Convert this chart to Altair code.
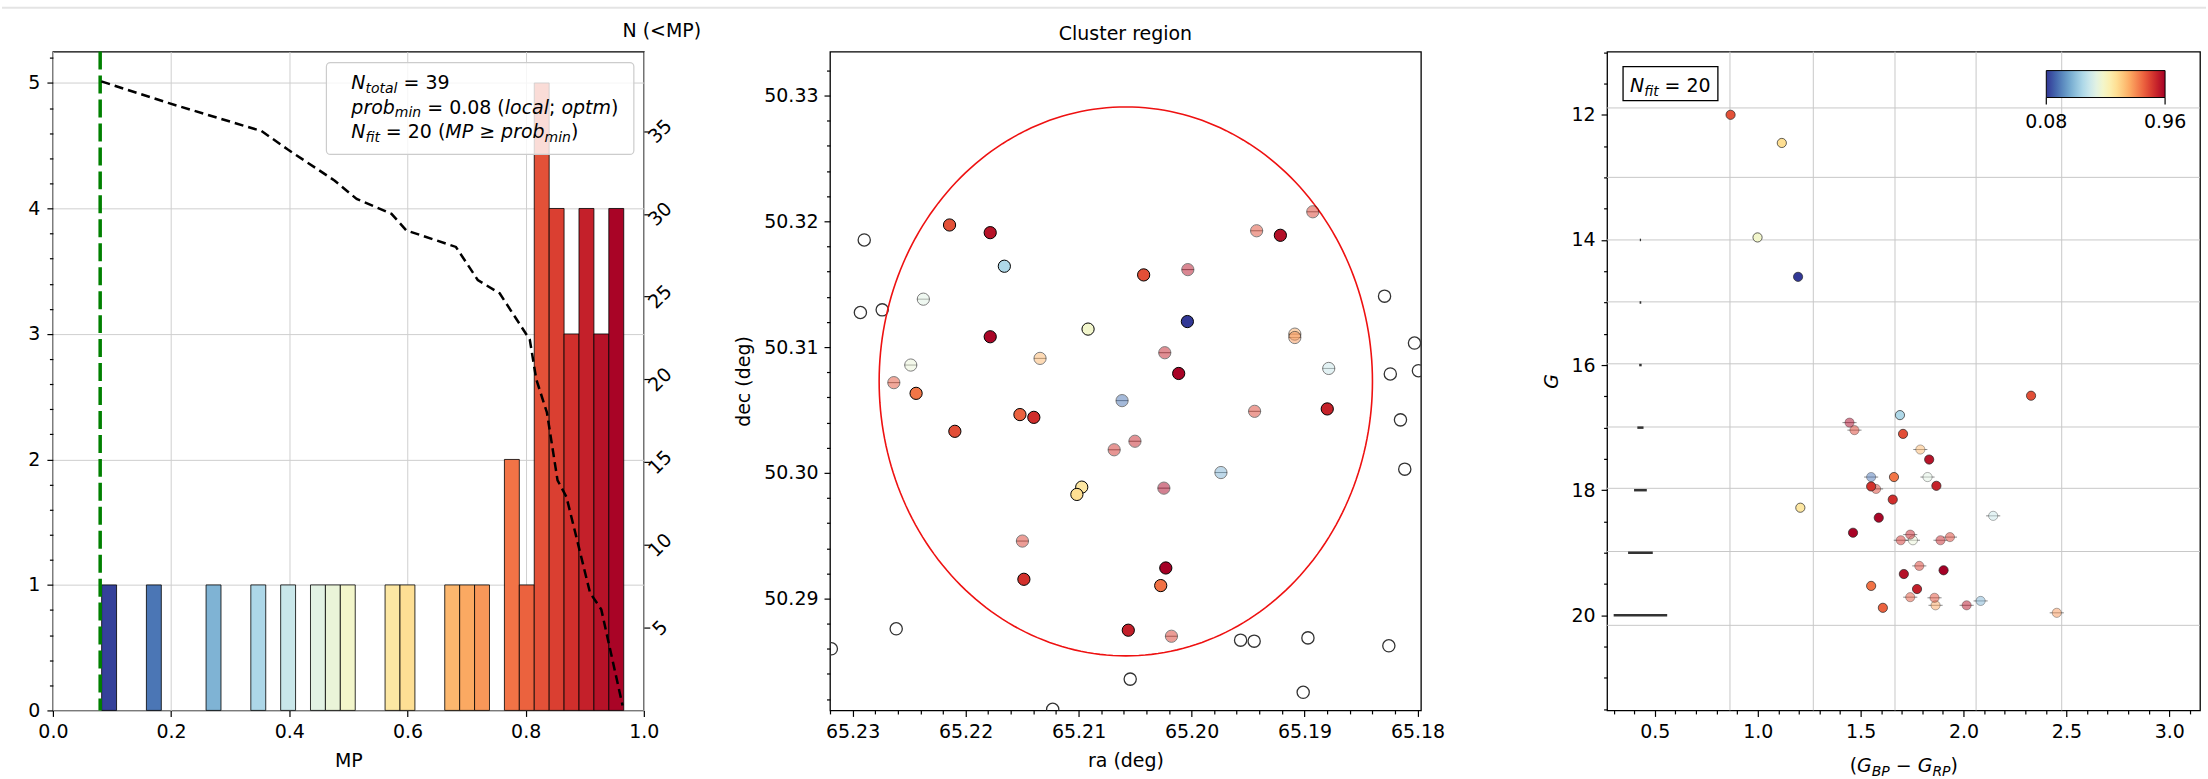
import altair as alt
import numpy as np
import pandas as pd

FONT = "DejaVu Sans"

# ---------------- cluster members (first 20 = fit members, last 19 = others) ----------------
mp = [0.083, 0.352, 0.497, 0.575, 0.602, 0.772, 0.779, 0.801, 0.826, 0.829,
      0.831, 0.874, 0.879, 0.900, 0.905, 0.926, 0.931, 0.950, 0.955, 0.960,
      0.171, 0.272, 0.398, 0.448, 0.474, 0.676, 0.701, 0.727, 0.823, 0.834,
      0.848, 0.852, 0.855, 0.858, 0.877, 0.898, 0.904, 0.928, 0.953]
ra = [65.20037, 65.21657, 65.20916, 65.20972, 65.21015, 65.22438, 65.20273, 65.21519, 65.22142, 65.20424,
      65.22095, 65.21484, 65.21396, 65.18799, 65.20560, 65.21782, 65.19214, 65.21782, 65.20114, 65.20228,
      65.20615, 65.19740, 65.18786, 65.22374, 65.22485, 65.21341, 65.19086, 65.19086, 65.22635, 65.19424,
      65.19442, 65.18927, 65.21497, 65.20178, 65.20685, 65.20501, 65.20237, 65.20033, 65.20245]
dec = [50.31203, 50.31643, 50.31143, 50.29886, 50.29828, 50.30632, 50.29103, 50.30463, 50.31971, 50.31574,
       50.30330, 50.29153, 50.30441, 50.30508, 50.28748, 50.31910, 50.31889, 50.31082, 50.30790, 50.29243,
       50.30574, 50.30002, 50.30830, 50.31381, 50.30857, 50.30910, 50.31103, 50.31076, 50.30717, 50.31925,
       50.30489, 50.32076, 50.29457, 50.28700, 50.30183, 50.30251, 50.30955, 50.31616, 50.29878]
bp_rp = [1.196, 1.691, 0.999, 1.207, 1.117, 1.662, 1.551, 1.608, 0.868, 2.328,
         1.706, 1.551, 1.656, 1.868, 1.774, 1.833, 1.710, 1.588, 1.463, 1.903,
         1.551, 2.083, 2.144, 1.825, 1.754, 1.790, 1.864, 2.453, 1.741, 1.859,
         1.470, 1.575, 1.934, 1.785, 1.695, 1.888, 1.741, 2.015, 1.446]
gmag = [14.59, 16.80, 13.96, 18.28, 12.45, 17.79, 19.53, 19.88, 12.00, 16.49,
        17.10, 17.94, 18.15, 17.93, 19.58, 17.51, 19.34, 18.44, 18.68, 19.28,
        17.79, 19.77, 18.41, 17.79, 18.80, 17.35, 19.84, 19.96, 19.71, 19.72,
        17.04, 17.98, 18.75, 19.21, 18.80, 18.80, 18.71, 19.84, 16.92]
fit_flag = [1] * 20 + [0] * 19

# ---------------- field stars (outside cluster) ----------------
field_ra = [65.22897, 65.22931, 65.22738, 65.18292, 65.18027, 65.18241, 65.17992, 65.18151, 65.18113,
            65.22614, 65.23188, 65.20543, 65.21229, 65.19566, 65.19446, 65.18970, 65.19012, 65.18254]
field_dec = [50.31852, 50.31275, 50.31296, 50.31405, 50.31032, 50.30786, 50.30812, 50.30421, 50.30029,
             50.28759, 50.28600, 50.28359, 50.28119, 50.28669, 50.28661, 50.28687, 50.28254, 50.28624]

# ---------------- N(<MP) curve ----------------
cum_mp = [0.082, 0.195, 0.353, 0.397, 0.477, 0.514, 0.573, 0.598, 0.682, 0.719,
          0.756, 0.807, 0.818, 0.836, 0.854, 0.869, 0.887, 0.909, 0.928, 0.964]
cum_n = [38.0, 36.7, 35.0, 33.9, 32.0, 30.9, 30.0, 29.0, 28.0, 26.0,
         25.2, 22.4, 20.0, 18.0, 13.9, 12.9, 10.3, 7.1, 6.1, 0.3]

prob_min = 0.08
hist_range = (0.0825, 0.966)
n_bins = 35

# cluster radius circle (deg)
circle_ra, circle_dec, circle_r = 65.20582, 50.30727, 0.02183

# CMD grid lines and photometric error bars
cmd_grid_x = [0.865, 1.270, 1.667, 2.061, 2.477]
cmd_grid_y = [11.89, 13.0, 14.0, 14.99, 15.98, 16.99, 17.97, 18.98, 20.16]
err_g = [14, 15, 16, 17, 18, 19, 20]
err_hw = [0.003, 0.004, 0.006, 0.015, 0.031, 0.06, 0.13]
err_c = 0.43

# tick values
mp_ticks = [0.0, 0.2, 0.4, 0.6, 0.8, 1.0]
count_ticks = [float(v) for v in np.round(np.arange(0, 5.21, 0.2), 1)]
ncum_ticks = [5, 10, 15, 20, 25, 30, 35]
ra_ticks = [float(v) for v in np.round(np.arange(65.180, 65.2321, 0.002), 3)]
dec_ticks = [float(v) for v in np.round(np.arange(50.282, 50.3334, 0.002), 3)]
col_ticks = [float(v) for v in np.round(np.arange(0.3, 3.15, 0.1), 1)]
g_ticks = [float(v) for v in np.round(np.arange(11.0, 21.51, 0.5), 1)]
cbar_ticks = [0.08, 0.96]
cbar_domain = [0.08, 0.96]

# ---------------- helpers ----------------
W = {' ': 0.318, '(': 0.390, ')': 0.390, '=': 0.838, '≥': 0.838, '−': 0.838, ';': 0.337, '.': 0.318,
     '<': 0.838, 'B': 0.686, 'G': 0.775, 'M': 0.863, 'N': 0.748, 'P': 0.603, 'R': 0.695,
     'a': 0.613, 'b': 0.635, 'c': 0.550, 'f': 0.352, 'i': 0.278, 'l': 0.278, 'm': 0.974,
     'n': 0.634, 'o': 0.612, 'p': 0.635, 'r': 0.411, 't': 0.392}
for d in "0123456789":
    W[d] = 0.636

one = pd.DataFrame({"k": [0]})


def tw(s, fs):
    return sum(W.get(ch, 0.6) for ch in s) * fs


def plain_text(txt, x, y, size=19, align="center", italic=False):
    return alt.Chart(one).mark_text(
        text=txt, font=FONT, fontSize=size, fontStyle="italic" if italic else "normal",
        align=align, baseline="alphabetic", color="black"
    ).encode(x=alt.value(x), y=alt.value(y))


def rich_text(segments, x0, y0, size=19, sub_size=14, sub_dy=4):
    layers = []
    x = x0
    for txt, italic, sub in segments:
        fs = sub_size if sub else size
        lead = len(txt) - len(txt.lstrip(' '))
        trail = len(txt) - len(txt.rstrip(' '))
        core = txt.strip(' ')
        x += lead * W[' '] * fs
        layers.append(
            alt.Chart(one).mark_text(
                text=core, font=FONT, fontSize=fs,
                fontStyle="italic" if italic else "normal",
                align="left", baseline="alphabetic", color="black"
            ).encode(x=alt.value(x), y=alt.value(y0 + (sub_dy if sub else 0)))
        )
        x += tw(core, fs) + trail * W[' '] * fs
    return layers


def ticked_axis(values, major_test, fmt, grid=False, **kw):
    args = dict(
        values=values, format=fmt,
        labelExpr=f"({major_test}) ? datum.label : ''",
        tickSize={"condition": {"test": major_test, "value": 6}, "value": 3.5},
        grid=grid, labelOverlap=False, labelFlush=False,
    )
    if grid:
        args["gridOpacity"] = {"condition": {"test": major_test, "value": 1}, "value": 0}
    args.update(kw)
    return alt.Axis(**args)


cscale = alt.Scale(scheme=alt.SchemeParams(name="redyellowblue", extent=[1, 0]), domain=cbar_domain)

members = pd.DataFrame({"ra": ra, "dec": dec, "mp": mp, "bp_rp": bp_rp, "g": gmag, "fit": fit_flag})
solid = members[members["fit"] == 1]
semi = members[members["fit"] == 0]

# ================= Panel 1: MP histogram =================
counts, edges = np.histogram(mp, bins=n_bins, range=hist_range)
hist = pd.DataFrame({"x0": edges[:-1], "x1": edges[1:], "count": counts, "base": 0,
                     "center": 0.5 * (edges[:-1] + edges[1:])})
hist = hist[hist["count"] > 0]

x1_scale = alt.Scale(domain=[0, 1], nice=False, zero=False)
x1_axis = alt.Axis(values=mp_ticks, format=".1f", title="MP", grid=True, tickSize=6,
                   labelFlush=False, labelOverlap=False, titlePadding=10, labelPadding=6)
yL_scale = alt.Scale(domain=[0, 5.25], nice=False, zero=False)
yL_axis = ticked_axis(count_ticks, "abs(datum.value - round(datum.value)) < 1e-6", ".0f",
                      grid=True, orient="left", title=None, labelPadding=7)
yR_scale = alt.Scale(domain=[0, 39.8], nice=False, zero=False)
yR_axis = alt.Axis(orient="right", values=ncum_ticks, format="d", grid=False, tickSize=6,
                   labelAngle=315, labelAlign="center", labelBaseline="middle", labelPadding=10,
                   labelFlush=False, labelOverlap=False, title=None)

bars = alt.Chart(hist).mark_rect(stroke="black", strokeWidth=0.8).encode(
    x=alt.X("x0:Q", scale=x1_scale, axis=x1_axis),
    x2="x1:Q",
    y=alt.Y("count:Q", scale=yL_scale, axis=yL_axis),
    y2="base:Q",
    color=alt.Color("center:Q", scale=cscale, legend=None),
)
green = alt.Chart(pd.DataFrame({"p": [prob_min]})).mark_rule(
    color="green", strokeWidth=3.5, strokeDash=[18, 6]
).encode(x=alt.X("p:Q", scale=x1_scale, axis=x1_axis))
cum = alt.Chart(pd.DataFrame({"mp": cum_mp, "n": cum_n})).mark_line(
    color="black", strokeWidth=2.5, strokeDash=[9, 5]
).encode(
    x=alt.X("mp:Q", scale=x1_scale, axis=x1_axis),
    y=alt.Y("n:Q", scale=yR_scale, axis=yR_axis),
)
box1 = alt.Chart(one).mark_rect(fill="white", fillOpacity=0.8, stroke="#cccccc",
                                strokeWidth=1.2, cornerRadius=4).encode(
    x=alt.value(274), x2=alt.value(582), y=alt.value(11), y2=alt.value(103))

leg_txt = []
leg_txt += rich_text([("N", True, False), ("total", True, True), (" = 39", False, False)], 299, 37)
leg_txt += rich_text([("prob", True, False), ("min", True, True), (" = 0.08 (", False, False),
                      ("local", True, False), ("; ", False, False), ("optm", True, False),
                      (")", False, False)], 299, 62)
leg_txt += rich_text([("N", True, False), ("fit", True, True), (" = 20 (", False, False),
                      ("MP", True, False), (" ≥ ", False, False), ("prob", True, False),
                      ("min", True, True), (")", False, False)], 299, 87)
ncum_title = plain_text("N (<MP)", 610, -15)
# faint separator line across the top of the picture
top_line = alt.Chart(one).mark_rule(color="#e4e4e4", strokeWidth=2).encode(
    x=alt.value(-51), x2=alt.value(2157), y=alt.value(-44))

p1 = alt.layer(top_line, bars, green, cum, box1, *leg_txt, ncum_title).resolve_scale(
    y="independent").properties(width=592, height=660)

# ================= Panel 2: cluster region =================
ra_scale = alt.Scale(domain=[65.1797, 65.2320], reverse=True, nice=False, zero=False)
dec_scale = alt.Scale(domain=[50.2811, 50.3335], nice=False, zero=False)
t2 = "abs(datum.value*100 - round(datum.value*100)) < 1e-6"
ra_axis = ticked_axis(ra_ticks, t2, ".2f", title="ra (deg)", titlePadding=10, labelPadding=6)
dec_axis = ticked_axis(dec_ticks, t2, ".2f", title="dec (deg)", titlePadding=10, labelPadding=6)

field = alt.Chart(pd.DataFrame({"ra": field_ra, "dec": field_dec})).mark_point(
    shape="circle", filled=False, size=150, color="#333333", strokeWidth=1.3, clip=True, opacity=1
).encode(x=alt.X("ra:Q", scale=ra_scale, axis=ra_axis),
         y=alt.Y("dec:Q", scale=dec_scale, axis=dec_axis))

theta = np.linspace(0, 2 * np.pi, 241)
circ = pd.DataFrame({"ra": circle_ra + circle_r * np.cos(theta),
                     "dec": circle_dec + circle_r * np.sin(theta),
                     "i": np.arange(len(theta))})
circle = alt.Chart(circ).mark_line(color="#ee1111", strokeWidth=1.6).encode(
    x=alt.X("ra:Q", scale=ra_scale, axis=ra_axis),
    y=alt.Y("dec:Q", scale=dec_scale, axis=dec_axis),
    order="i:Q")

semi_line2 = alt.Chart(semi).mark_point(shape="stroke", size=150, color="black",
                                        strokeWidth=1, opacity=0.55).encode(
    x=alt.X("ra:Q", scale=ra_scale, axis=ra_axis),
    y=alt.Y("dec:Q", scale=dec_scale, axis=dec_axis))
semi_pts2 = alt.Chart(semi).mark_point(shape="circle", filled=True, size=150, stroke="black",
                                       strokeWidth=1, opacity=0.5).encode(
    x=alt.X("ra:Q", scale=ra_scale, axis=ra_axis),
    y=alt.Y("dec:Q", scale=dec_scale, axis=dec_axis),
    color=alt.Color("mp:Q", scale=cscale, legend=None))
solid_pts2 = alt.Chart(solid).mark_point(shape="circle", filled=True, size=150, stroke="black",
                                         strokeWidth=1, opacity=1).encode(
    x=alt.X("ra:Q", scale=ra_scale, axis=ra_axis),
    y=alt.Y("dec:Q", scale=dec_scale, axis=dec_axis),
    color=alt.Color("mp:Q", scale=cscale, legend=None))
title2 = plain_text("Cluster region", 296, -12)

p2 = alt.layer(field, circle, semi_line2, semi_pts2, solid_pts2, title2).properties(
    width=592, height=660)

# ================= Panel 3: CMD =================
cx_scale = alt.Scale(domain=[0.268, 3.149], nice=False, zero=False)
cy_scale = alt.Scale(domain=[10.99, 21.52], reverse=True, nice=False, zero=False)
cx_axis = ticked_axis(col_ticks, "abs(datum.value*2 - round(datum.value*2)) < 1e-6", ".1f",
                      title=None, labelPadding=6)
cy_axis = ticked_axis(g_ticks, "abs(datum.value/2 - round(datum.value/2)) < 1e-6", ".0f",
                      title="G", titleFontStyle="italic", titlePadding=10, labelPadding=6)

CB_X, CB_LEN = 440, 119
cbar_legend = alt.Legend(orient="none", legendX=CB_X, legendY=19, direction="horizontal",
                         gradientLength=CB_LEN, gradientThickness=27, values=cbar_ticks,
                         labelExpr="''", labelFontSize=19,
                         gradientStrokeColor="black", gradientStrokeWidth=1, gradientOpacity=1,
                         padding=0, title=None)

gx = alt.Chart(pd.DataFrame({"x": cmd_grid_x})).mark_rule(color="#c8c8c8", strokeWidth=1).encode(
    x=alt.X("x:Q", scale=cx_scale, axis=cx_axis))
gy = alt.Chart(pd.DataFrame({"y": cmd_grid_y})).mark_rule(color="#c8c8c8", strokeWidth=1).encode(
    y=alt.Y("y:Q", scale=cy_scale, axis=cy_axis))
errs = alt.Chart(pd.DataFrame({"g": err_g,
                               "lo": [err_c - h for h in err_hw],
                               "hi": [err_c + h for h in err_hw]})).mark_rule(
    color="#333333", strokeWidth=2.5).encode(
    x=alt.X("lo:Q", scale=cx_scale, axis=cx_axis), x2="hi:Q",
    y=alt.Y("g:Q", scale=cy_scale, axis=cy_axis))

semi_line3 = alt.Chart(semi).mark_point(shape="stroke", size=200, color="black",
                                        strokeWidth=1, opacity=0.45).encode(
    x=alt.X("bp_rp:Q", scale=cx_scale, axis=cx_axis),
    y=alt.Y("g:Q", scale=cy_scale, axis=cy_axis))
semi_pts3 = alt.Chart(semi).mark_point(shape="circle", filled=True, size=85, stroke="#222222",
                                       strokeWidth=0.7, fillOpacity=0.5, strokeOpacity=0.5).encode(
    x=alt.X("bp_rp:Q", scale=cx_scale, axis=cx_axis),
    y=alt.Y("g:Q", scale=cy_scale, axis=cy_axis),
    color=alt.Color("mp:Q", scale=cscale, legend=cbar_legend))
solid_pts3 = alt.Chart(solid).mark_point(shape="circle", filled=True, size=85, stroke="#222222",
                                         strokeWidth=0.7, opacity=1).encode(
    x=alt.X("bp_rp:Q", scale=cx_scale, axis=cx_axis),
    y=alt.Y("g:Q", scale=cy_scale, axis=cy_axis),
    color=alt.Color("mp:Q", scale=cscale, legend=cbar_legend))

box3 = alt.Chart(one).mark_rect(fill="white", stroke="black", strokeWidth=1.3).encode(
    x=alt.value(16), x2=alt.value(111), y=alt.value(15), y2=alt.value(49))
nfit_txt = rich_text([("N", True, False), ("fit", True, True), (" = 20", False, False)], 23, 40)
cb_pos = [CB_X + (v - cbar_domain[0]) / (cbar_domain[1] - cbar_domain[0]) * CB_LEN for v in cbar_ticks]
cb_ticks = [alt.Chart(one).mark_rule(color="black", strokeWidth=1.2).encode(
    x=alt.value(xv), y=alt.value(46), y2=alt.value(53)) for xv in cb_pos]
cb_labels = [plain_text(f"{v:.2f}", xv, 77) for v, xv in zip(cbar_ticks, cb_pos)]
xt_txt = rich_text([("(", False, False), ("G", True, False), ("BP", True, True),
                    (" − ", False, False), ("G", True, False), ("RP", True, True),
                    (")", False, False)], 243, 722)

p3 = alt.layer(gx, gy, errs, semi_line3, semi_pts3, solid_pts3, box3, *nfit_txt, *cb_ticks,
               *cb_labels, *xt_txt).properties(width=594, height=660)

chart = alt.hconcat(p1, p2, p3, spacing=186.5, bounds="flush").resolve_scale(
    color="independent"
).properties(
    padding={"left": 0, "top": 5, "right": 0, "bottom": 0}
).configure(font=FONT).configure_view(
    stroke="black", strokeWidth=1.3
).configure_axis(
    labelFont=FONT, labelFontSize=19, labelColor="black",
    titleFont=FONT, titleFontSize=19, titleFontWeight="normal", titleColor="black",
    tickColor="black", tickWidth=1.2, domain=False, gridColor="#cfcfcf", gridWidth=1
)

chart.save("out.html", embed_options={"renderer": "svg", "actions": False})
